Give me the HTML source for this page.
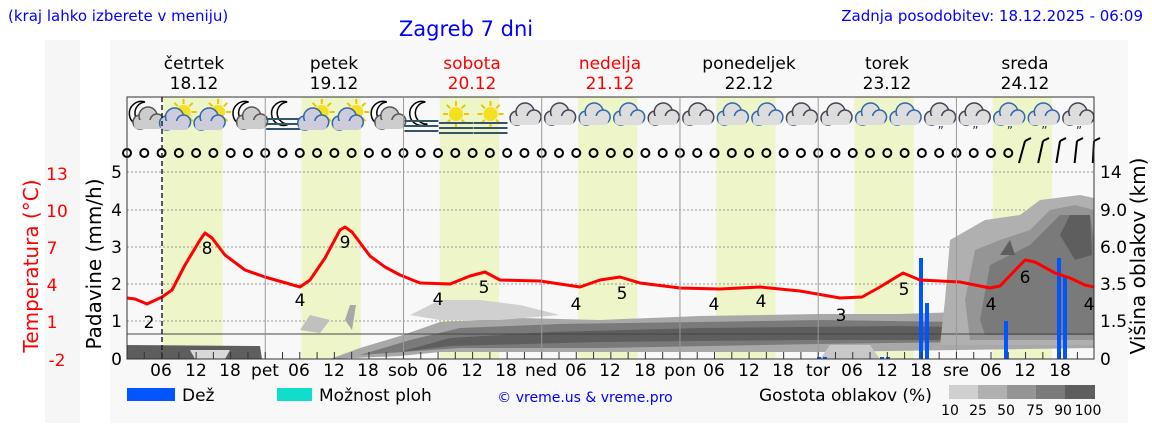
<!DOCTYPE html>
<html><head><meta charset="utf-8"><style>
body{margin:0;background:#fff;width:1152px;height:443px;overflow:hidden;font-family:"Liberation Sans","DejaVu Sans",sans-serif}
svg text{font-family:"DejaVu Sans","Liberation Sans",sans-serif}
</style></head><body>
<svg id="s" width="1152" height="443" viewBox="0 0 1152 443" xmlns="http://www.w3.org/2000/svg">
<rect x="0" y="0" width="1152" height="443" fill="#fff"/>
<rect x="45" y="40" width="35" height="383" fill="#f6f6f6"/>
<rect x="110" y="40" width="1018" height="383" fill="#f8f8f8"/>
<g id="bands"></g>
<g id="grid" stroke="#999" stroke-width="1" stroke-dasharray="2,2"></g>
<g id="clouds"></g>
<line x1="127" y1="334" x2="1094" y2="334" stroke="#444" stroke-width="1"/>
<g id="rain" fill="#0055ff"></g>
<polyline id="temp" fill="none" stroke="#f00" stroke-width="3" stroke-linejoin="round"/>
<g id="icons"></g>
<g id="wind" fill="none" stroke="#000" stroke-width="2"></g>
<line x1="162" y1="97" x2="162" y2="359" stroke="#222" stroke-width="1.5" stroke-dasharray="5,3"/>
<rect x="127" y="97" width="967" height="262" fill="none" stroke="#333" stroke-width="1"/>
<g id="ticks" stroke="#333"></g>
<g font-size="17" fill="#000">
<text x="149" y="328" text-anchor="middle">2</text><text x="207" y="254" text-anchor="middle">8</text>
<text x="300" y="306" text-anchor="middle">4</text><text x="345" y="248" text-anchor="middle">9</text>
<text x="438" y="305" text-anchor="middle">4</text><text x="484" y="293" text-anchor="middle">5</text>
<text x="576" y="310" text-anchor="middle">4</text><text x="622" y="299" text-anchor="middle">5</text>
<text x="714" y="310" text-anchor="middle">4</text><text x="761" y="307" text-anchor="middle">4</text>
<text x="841" y="321" text-anchor="middle">3</text><text x="904" y="295" text-anchor="middle">5</text>
<text x="991" y="310" text-anchor="middle">4</text><text x="1025" y="283" text-anchor="middle">6</text>
<text x="1089" y="310" text-anchor="middle">4</text>
</g>
<g font-size="17" fill="#000" text-anchor="middle">
<text x="161" y="376">06</text><text x="196" y="376">12</text><text x="230" y="376">18</text>
<text x="265" y="376">pet</text><text x="299" y="376">06</text><text x="334" y="376">12</text><text x="368" y="376">18</text>
<text x="403" y="376">sob</text><text x="437" y="376">06</text><text x="472" y="376">12</text><text x="506" y="376">18</text>
<text x="541" y="376">ned</text><text x="576" y="376">06</text><text x="610" y="376">12</text><text x="645" y="376">18</text>
<text x="680" y="376">pon</text><text x="714" y="376">06</text><text x="749" y="376">12</text><text x="783" y="376">18</text>
<text x="818" y="376">tor</text><text x="852" y="376">06</text><text x="887" y="376">12</text><text x="921" y="376">18</text>
<text x="956" y="376">sre</text><text x="991" y="376">06</text><text x="1025" y="376">12</text><text x="1060" y="376">18</text>
</g>
<g font-size="17" fill="#000" text-anchor="end">
<text x="122" y="178">5</text><text x="122" y="216">4</text><text x="122" y="253">3</text>
<text x="122" y="290">2</text><text x="122" y="327">1</text><text x="122" y="365">0</text>
</g>
<g font-size="17" fill="#000">
<text x="1100" y="178">14</text><text x="1100" y="216">9.0</text><text x="1100" y="253">6.0</text>
<text x="1100" y="290">3.5</text><text x="1100" y="327">1.5</text><text x="1100" y="365">0</text>
</g>
<g font-size="17" fill="#f00" text-anchor="middle">
<text x="57" y="180">13</text><text x="57" y="217">10</text><text x="52" y="254">7</text>
<text x="52" y="291">4</text><text x="52" y="328">1</text><text x="57" y="366">-2</text>
</g>
<text transform="translate(38,266) rotate(-90)" font-size="20" fill="#f00" text-anchor="middle">Temperatura (°C)</text>
<text transform="translate(101,264) rotate(-90)" font-size="20" fill="#000" text-anchor="middle">Padavine (mm/h)</text>
<text transform="translate(1145,256) rotate(-90)" font-size="20" fill="#000" text-anchor="middle">Višina oblakov (km)</text>
<g font-size="17" text-anchor="middle">
<text x="194" y="69">četrtek</text><text x="194" y="89">18.12</text>
<text x="334" y="69">petek</text><text x="334" y="89">19.12</text>
<text x="472" y="69" fill="#f00">sobota</text><text x="472" y="89" fill="#f00">20.12</text>
<text x="610" y="69" fill="#f00">nedelja</text><text x="610" y="89" fill="#f00">21.12</text>
<text x="749" y="69">ponedeljek</text><text x="749" y="89">22.12</text>
<text x="887" y="69">torek</text><text x="887" y="89">23.12</text>
<text x="1025" y="69">sreda</text><text x="1025" y="89">24.12</text>
</g>
<text x="8" y="21" font-size="15" fill="#00f">(kraj lahko izberete v meniju)</text>
<text x="466" y="36" font-size="21" fill="#00f" text-anchor="middle">Zagreb 7 dni</text>
<text x="1143" y="21" font-size="15" fill="#00f" text-anchor="end">Zadnja posodobitev: 18.12.2025 - 06:09</text>
<rect x="127" y="388" width="48" height="13" fill="#0055ff"/>
<text x="182" y="401" font-size="17">Dež</text>
<rect x="277" y="388" width="35" height="13" fill="#11ddcc"/>
<text x="319" y="401" font-size="17">Možnost ploh</text>
<text x="585" y="402" font-size="14" fill="#00f" text-anchor="middle">© vreme.us &amp; vreme.pro</text>
<text x="759" y="401" font-size="17">Gostota oblakov (%)</text>
<rect x="949" y="385" width="29" height="14" fill="#d0d0d0"/><rect x="978" y="385" width="29" height="14" fill="#b0b0b0"/>
<rect x="1007" y="385" width="29" height="14" fill="#959595"/><rect x="1036" y="385" width="29" height="14" fill="#7a7a7a"/>
<rect x="1065" y="385" width="30" height="14" fill="#5e5e5e"/>
<g font-size="14" text-anchor="middle"><text x="950" y="415">10</text><text x="978" y="415">25</text><text x="1006" y="415">50</text><text x="1035" y="415">75</text><text x="1063" y="415">90</text><text x="1088" y="415">100</text></g>
</svg>
<script>
var NS="http://www.w3.org/2000/svg";
function el(p,t,a){var e=document.createElementNS(NS,t);for(var k in a)e.setAttribute(k,a[k]);document.getElementById(p).appendChild(e);return e;}
function X(h){return 127+h*5.76;}
for(var d=0;d<7;d++){el("bands","rect",{x:X(d*24+6.3),y:97,width:5.76*10.3,height:262,fill:"#eef5c8"});}
[172,210,247,284,321].forEach(function(y){el("grid","line",{x1:127,x2:1094,y1:y,y2:y});});
for(var d=1;d<7;d++)el("ticks","line",{x1:X(d*24),x2:X(d*24),y1:97,y2:359,stroke:"#999"});
for(var h=3;h<168;h+=3)el("ticks","line",{x1:X(h),x2:X(h),y1:352,y2:359});
function poly(pts,f){el("clouds","polygon",{points:pts,fill:f});}
poly("127,345 260,346 262,359 127,359","#5e5e5e");
poly("190,350 230,350 225,359 195,359","#d8d8d8");
poly("330,359 360,348 400,336 440,322 520,318 600,320 700,316 820,314 900,314 960,312 1094,312 1094,348 960,350 820,352 700,352 560,352 440,352 400,356","#a8a8a8");
poly("360,355 410,340 460,328 560,324 700,322 820,320 960,322 1094,322 1094,340 960,342 820,344 600,348 460,348","#7a7a7a");
poly("400,352 450,338 550,332 700,328 900,326 1000,328 1000,340 800,340 600,342 450,346","#5e5e5e");
poly("410,315 440,300 480,300 520,305 560,315 500,320 440,320","#d0d0d0");
poly("300,330 310,315 330,320 320,333","#c0c0c0");poly("345,320 350,305 356,305 352,330","#a8a8a8");
poly("945,300 950,240 985,220 1020,215 1040,200 1080,195 1094,198 1094,345 940,345","#b0b0b0");
poly("965,300 975,250 1000,240 1030,230 1050,210 1075,205 1094,210 1094,340 970,340","#959595");
poly("980,320 990,265 1010,255 1030,245 1060,215 1090,215 1094,240 1094,335 985,335","#7a7a7a");
poly("1060,235 1070,215 1090,215 1092,255 1075,260","#5e5e5e");poly("1000,255 1010,240 1015,255","#5e5e5e");
poly("820,359 830,345 870,345 880,359","#c8c8c8");
[[921,258],[927,303],[1006,321],[1059,258],[1065,276]].forEach(function(r){el("rain","rect",{x:r[0]-2,y:r[1],width:4,height:359-r[1]});});
[[817,357],[823,357],[880,357],[886,357]].forEach(function(r){el("rain","rect",{x:r[0],y:r[1],width:4,height:2});});
document.getElementById("temp").setAttribute("points","127,298 135,299 147,304 162,297 172,290 185,265 200,240 205,233 212,238 225,255 245,270 265,277 300,287 310,280 325,258 340,230 345,227 352,232 370,256 385,267 400,275 420,283 450,284 470,276 485,272 500,280 540,281 580,287 600,280 620,277 640,283 680,288 720,289 760,287 800,291 840,298 862,297 880,287 903,273 920,280 960,282 990,288 1000,286 1025,260 1035,262 1055,273 1070,278 1085,285 1094,287");
function cloud(cx,cy,stroke,fill){var g=el("icons","g",{});
[[cx-8,cy+2,7],[cx,cy-4,9],[cx+9,cy+1,7]].forEach(function(c){var e=document.createElementNS(NS,"circle");e.setAttribute("cx",c[0]);e.setAttribute("cy",c[1]);e.setAttribute("r",c[2]);e.setAttribute("fill",fill);e.setAttribute("stroke",stroke);e.setAttribute("stroke-width",1.5);g.appendChild(e);});
var r=document.createElementNS(NS,"rect");r.setAttribute("x",cx-14);r.setAttribute("y",cy);r.setAttribute("width",28);r.setAttribute("height",9);r.setAttribute("rx",4);r.setAttribute("fill",fill);g.appendChild(r);}
function sun(cx,cy){for(var a=0;a<8;a++){var an=a*Math.PI/4;el("icons","line",{x1:cx+Math.cos(an)*8,y1:cy+Math.sin(an)*8,x2:cx+Math.cos(an)*13,y2:cy+Math.sin(an)*13,stroke:"#e8c800","stroke-width":2});}el("icons","circle",{cx:cx,cy:cy,r:7,fill:"#f5e020"});}
function moon(cx,cy){el("icons","path",{d:"M"+(cx+4)+","+(cy-12)+" A12,12 0 1,0 "+(cx+6)+","+(cy+10)+" A9,9 0 1,1 "+(cx+4)+","+(cy-12),fill:"#fff",stroke:"#000","stroke-width":1.5});}
function fog(cx,cy){[0,5,10].forEach(function(o){el("icons","rect",{x:cx-17,y:cy+o,width:34,height:2,fill:"#356"});});}
var types="mssmfssmFSSccccccccccccrrrrrrr";
for(var i=0;i<28;i++){var cx=145+i*34.55,cy=116,t=types[i];
 if(t=="m"){moon(cx-4,cy-2);cloud(cx+3,cy+4,"#555","#ccc");}
 else if(t=="s"){sun(cx+4,cy-4);cloud(cx-5,cy+5,"#3366aa","#ccd");}
 else if(t=="f"){moon(cx,cy-2);fog(cx,cy+2);}
 else if(t=="F"){moon(cx,cy-2);fog(cx,cy+4);}
 else if(t=="S"){sun(cx,cy-2);fog(cx,cy+6);}
 else {var blue=(i%4==1||i%4==2);cloud(cx,cy,blue?"#3366aa":"#445","#ddd");
   if(i>=19&&t=="r"){el("icons","text",{x:cx-2,y:cy+19,"font-size":12,fill:"#335"}).textContent="\u201D";}}
}
for(var k=0;k<=51;k++)el("wind","circle",{cx:127+k*17.28,cy:153,r:4});
[1025,1043,1060,1077,1094].forEach(function(x,i){el("wind","line",{x1:x-6+i*1.2,y1:163,x2:x,y2:141});el("wind","line",{x1:x,y1:141,x2:x+6,y2:138});});
</script>
</body></html>
